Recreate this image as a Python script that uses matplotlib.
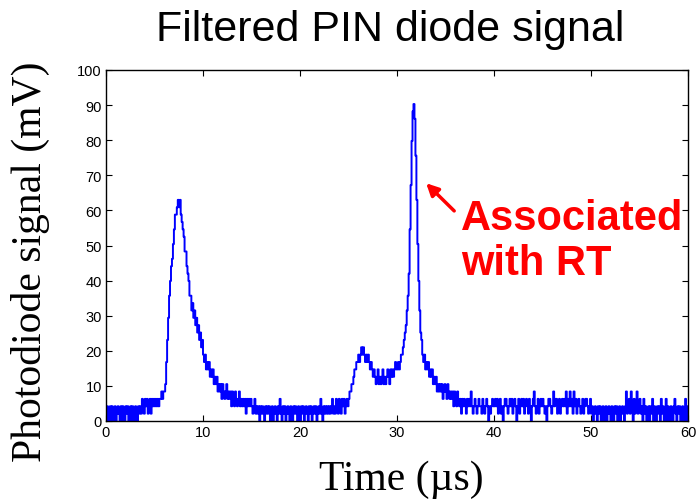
import numpy as np
import matplotlib.pyplot as plt

# photodiode trace, ADC codes sampled every 0.1 us (one row = 5 us)
dt = 0.1
lsb = 2.1  # mV per ADC code
codes_rows = [
    "0 2 0 1 2 0 2 1 0 2 0 1 2 1 0 2 0 2 1 0 2 1 2 0 1 2 0 2 1 0 2 1 0 2 1 2 1 3 2 1 3 2 3 1 2 3 1 3 2 3",
    "2 3 2 3 2 3 3 4 3 4 4 5 8 11 14 17 19 21 22 24 26 28 28 29 30 29 30 28 27 26 25 23 23 21 20 19 17 17 15 16 14 15 13 14 12 13 11 12 10 11",
    "9 8 9 7 8 7 8 6 7 6 7 5 6 5 6 4 5 4 5 3 5 4 3 4 5 3 4 3 4 2 4 3 2 4 3 2 3 4 2 3 2 3 2 3 1 3 2 3 2 3",
    "2 1 2 3 1 2 1 2 0 2 1 2 1 0 2 1 2 1 2 0 1 2 0 1 2 1 0 2 1 3 1 0 2 1 2 0 1 2 1 0 2 1 0 2 1 2 1 0 2 1",
    "0 2 1 2 0 1 2 1 0 2 1 2 0 1 2 1 2 0 1 2 1 3 1 0 2 1 2 1 2 1 2 1 2 3 1 2 1 3 2 1 3 2 1 3 2 3 1 2 3 2",
    "3 4 4 5 5 6 7 7 8 8 9 8 9 10 9 10 9 8 9 8 9 8 7 8 7 6 7 6 5 6 7 5 6 5 6 7 5 6 5 6 7 6 5 7 6 7 6 7 8 7",
    "7 8 7 8 9 9 10 11 12 13 15 17 20 26 32 38 42 43 41 36 30 24 19 15 12 11 9 8 9 7 8 7 8 6 7 6 7 5 6 5 6 4 5 4 5 4 5 3 4 5",
    "4 3 5 4 3 4 3 4 2 4 3 2 4 3 2 3 1 3 2 3 2 1 3 2 3 2 4 2 1 2 3 2 1 2 3 2 2 1 3 2 1 2 3 2 0 2 1 2 3 2",
    "2 3 2 3 1 2 3 1 2 0 2 3 3 2 1 2 3 2 3 1 2 3 2 0 2 3 1 2 3 2 3 1 2 3 2 1 3 2 0 2 3 4 2 1 2 3 1 2 3 2",
    "3 2 1 2 0 2 3 3 2 1 2 4 2 3 3 1 2 3 1 2 3 2 3 2 4 1 3 2 4 2 3 1 4 2 3 1 2 3 2 1 2 3 1 2 3 3 2 1 2 3",
    "1 2 0 1 2 1 0 2 1 2 0 1 2 0 1 2 0 1 2 1 0 2 1 0 2 1 2 0 1 2 0 1 2 1 0 2 4 1 2 3 1 4 2 0 3 1 2 4 1 2",
    "3 1 2 0 3 1 2 0 1 2 0 2 1 3 0 2 1 0 2 1 2 0 3 1 2 0 1 3 0 2 1 0 2 1 0 2 3 1 0 2 1 2 0 1 2 0 1 3 0 2",
]
codes = np.array([int(c) for row in codes_rows for c in row.split()])
signal = codes * lsb
time_us = np.arange(len(codes)) * dt

xticks = [0, 10, 20, 30, 40, 50, 60]
yticks = [0, 10, 20, 30, 40, 50, 60, 70, 80, 90, 100]

fig = plt.figure(figsize=(6.96, 5.02), dpi=100)
ax = fig.add_axes([106 / 696, 80 / 502, 582 / 696, 351 / 502])

ax.plot(time_us, signal, color='#0000ff', linewidth=1.4, drawstyle='steps-post')

ax.set_xlim(0, 60)
ax.set_ylim(0, 100)
ax.set_xticks(xticks)
ax.set_yticks(yticks)
ax.tick_params(direction='in', length=4, width=0.8, top=True, right=True,
               labelsize=10.5, pad=3)
for lab in ax.get_xticklabels() + ax.get_yticklabels():
    lab.set_fontfamily('Liberation Sans')
for sp in ax.spines.values():
    sp.set_linewidth(1.0)

fig.text(390 / 696, 1 - 30 / 502, 'Filtered PIN diode signal', ha='center', va='center',
         fontsize=31, family='Liberation Sans')
fig.text(30 / 696, 1 - 262 / 502, 'Photodiode signal (mV)', ha='center', va='center',
         rotation=90, fontsize=30, family='Liberation Serif')
fig.text(401 / 696, 1 - 480 / 502, 'Time (\u00b5s)', ha='center', va='center',
         fontsize=30, family='Liberation Serif')

# annotation pointing at the second peak
ax.annotate('', xy=(32.8, 68.3), xytext=(36.1, 59.3),
            arrowprops=dict(arrowstyle='-|>', color='#ff0000', lw=2.5, mutation_scale=18))
ax.text(36.6, 63.5, 'Associated\nwith RT', color='#ff0000', fontsize=30,
        fontweight='bold', family='Liberation Sans', ha='left', va='top', linespacing=1.15)

fig.savefig('out.png', dpi=100)
